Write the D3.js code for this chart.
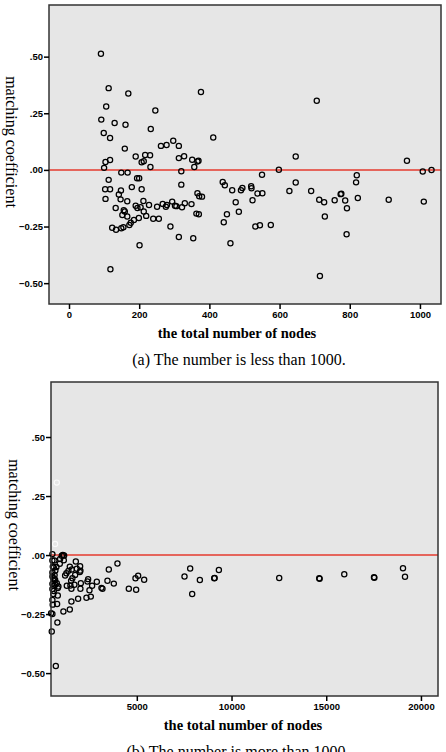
<!DOCTYPE html>
<html>
<head>
<meta charset="utf-8">
<script src="https://cdnjs.cloudflare.com/ajax/libs/d3/7.8.5/d3.min.js"></script>
<style>
    body { margin: 0; background: #fff; }
    svg { display: block; }
    .tick text { font-family: "Liberation Sans", Arial, sans-serif; font-weight: bold; font-size: 9.5px; fill: #000; }
    .tick line { stroke: #000; stroke-width: 1.5; }
    .serif { font-family: "Liberation Serif", "Times New Roman", serif; fill: #000; }
</style>
</head>
<body>
<div id="chart"></div>
<script>
// panel (a): total number of nodes < 1000
const smallNodes = [
    91, 113, 169, 376, 106, 246, 92, 130, 161, 233, 99, 117, 411, 159, 262, 278, 297, 313,
    190, 217, 231, 207, 213, 232, 313, 328, 351, 369, 366, 357, 104, 117, 100, 149, 167, 320,
    113, 194, 200, 103, 117, 148, 179, 207, 320, 104, 142, 147, 166, 133, 159, 156, 152, 166,
    190, 195, 204, 212, 213, 220, 228, 199, 185, 176, 172, 155, 149, 123, 134, 240, 256, 251,
    267, 276, 279, 294, 302, 306, 322, 330, 349, 366, 371, 379, 363, 370, 289, 313, 354, 201, 118,
    706, 646, 963, 598, 1008, 1033, 550, 820, 818, 438, 444, 465, 490, 494, 519, 520, 537, 551,
    646, 628, 690, 523, 475, 484, 450, 441, 460, 531, 544, 575, 713, 727, 729, 757, 774, 776,
    787, 792, 791, 823, 911, 1011, 715
];
const smallCoef = [
    0.513, 0.361, 0.337, 0.344, 0.28, 0.262, 0.222, 0.207, 0.199, 0.181, 0.163, 0.141, 0.143, 0.094, 0.106, 0.11, 0.129, 0.106,
    0.059, 0.066, 0.065, 0.034, 0.038, 0.013, 0.052, 0.06, 0.045, 0.04, 0.037, 0.013, 0.035, 0.044, 0.009, -0.012, -0.012, -0.006,
    -0.044, -0.037, -0.037, -0.085, -0.085, -0.091, -0.076, -0.085, -0.065, -0.128, -0.109, -0.13, -0.138, -0.168, -0.184, -0.178, -0.199, -0.206,
    -0.158, -0.168, -0.165, -0.137, -0.184, -0.203, -0.155, -0.212, -0.221, -0.233, -0.243, -0.253, -0.258, -0.255, -0.264, -0.216, -0.216, -0.163,
    -0.15, -0.163, -0.155, -0.14, -0.158, -0.16, -0.165, -0.147, -0.151, -0.103, -0.116, -0.118, -0.193, -0.196, -0.25, -0.296, -0.302, -0.333, -0.439,
    0.305, 0.059, 0.04, 0.001, -0.007, 0.0, -0.021, -0.024, -0.055, -0.053, -0.068, -0.09, -0.09, -0.08, -0.072, -0.081, -0.104, -0.103,
    -0.056, -0.093, -0.093, -0.134, -0.143, -0.185, -0.196, -0.231, -0.324, -0.25, -0.244, -0.243, -0.132, -0.143, -0.206, -0.134, -0.107, -0.105,
    -0.135, -0.169, -0.284, -0.124, -0.132, -0.14, -0.468
];

// panel (b): total number of nodes > 1000
const largeNodes = [
    3978, 3522, 3450, 3786, 2889, 2430, 2394, 2641, 2500, 3134, 3187, 2342, 2571, 4578, 4965, 4930, 5071, 5388,
    7518, 7817, 7923, 8329, 9085, 9110, 9332, 12518, 14631, 14650, 15952, 17521, 17540, 19052, 19158,
    1780, 1093, 1162, 1040, 2007, 2023, 1991, 1833, 1463, 1569, 1389, 1284, 1215, 935, 755, 565, 1146, 951, 650,
    1743, 1600, 1532, 2044, 1706, 1495, 1305, 2023, 1548, 1902, 1548, 1463, 1125, 829, 792, 808, 724, 861, 776,
    687, 597, 703, 829, 544, 544, 618, 544, 544, 618, 544, 544, 618, 544, 475, 544, 510, 620, 660, 590, 700, 560
];
const largeCoef = [
    -0.036, -0.061, -0.109, -0.121, -0.113, -0.102, -0.112, -0.13, -0.149, -0.139, -0.143, -0.181, -0.176, -0.143, -0.147, -0.098, -0.088, -0.105,
    -0.091, -0.057, -0.165, -0.106, -0.098, -0.097, -0.063, -0.097, -0.098, -0.1, -0.081, -0.094, -0.096, -0.056, -0.092,
    -0.027, 0.0, -0.002, -0.003, -0.047, -0.066, -0.072, -0.058, -0.049, -0.061, -0.067, -0.077, -0.087, -0.037, -0.051, -0.049, -0.022, -0.017, -0.023,
    -0.084, -0.098, -0.109, -0.119, -0.126, -0.129, -0.13, -0.143, -0.143, -0.185, -0.197, -0.231, -0.239, -0.171, -0.207, -0.286, -0.47, -0.133, -0.119,
    -0.105, -0.098, -0.126, -0.14, 0.004, -0.023, -0.053, -0.074, -0.091, -0.105, -0.122, -0.144, -0.152, -0.19, -0.246, -0.25, -0.324, -0.13, -0.085, -0.165, -0.065, -0.21
];
// faint white markers visible near the left edge of panel (b)
const faintNodes = [776, 687];
const faintCoef = [0.307, 0.047];

const coefTicks = [0.5, 0.25, 0, -0.25, -0.5];
const smallNodeTicks = [0, 200, 400, 600, 800, 1000];
const largeNodeTicks = [5000, 10000, 15000, 20000];

const xTitle = "the total number of nodes";
const yTitle = "matching coefficient";

const width = 446, height = 752;
const svg = d3.select("#chart").append("svg")
    .attr("width", width)
    .attr("height", height);

const formatCoef = d => d3.format(".2f")(d).replace(/^(-?)0\./, "$1.");

function drawPanel(opts) {
    const { box, xDomain, yDomain, xTicks, nodes, coef, faint, caption } = opts;
    const x = d3.scaleLinear().domain(xDomain).range([box.left, box.right]);
    const y = d3.scaleLinear().domain(yDomain).range([box.bottom, box.top]);

    const g = svg.append("g");

    g.append("rect")
        .attr("x", box.left)
        .attr("y", box.top)
        .attr("width", box.right - box.left)
        .attr("height", box.bottom - box.top)
        .attr("fill", "#e6e6e6");

    g.append("line")
        .attr("x1", box.left)
        .attr("x2", box.right)
        .attr("y1", y(0))
        .attr("y2", y(0))
        .attr("stroke", "#e53a2e")
        .attr("stroke-width", 1.5);

    if (faint) {
        g.selectAll(".faint")
            .data(d3.range(faint.nodes.length))
            .enter().append("circle")
            .attr("class", "faint")
            .attr("cx", i => x(faint.nodes[i]))
            .attr("cy", i => y(faint.coef[i]))
            .attr("r", 2.6)
            .attr("fill", "none")
            .attr("stroke", "#fafafa")
            .attr("stroke-width", 1.1);
    }

    g.selectAll(".pt")
        .data(d3.range(nodes.length))
        .enter().append("circle")
        .attr("class", "pt")
        .attr("cx", i => x(nodes[i]))
        .attr("cy", i => y(coef[i]))
        .attr("r", 2.6)
        .attr("fill", "none")
        .attr("stroke", "#000")
        .attr("stroke-width", 1.25);

    g.append("rect")
        .attr("x", box.left)
        .attr("y", box.top)
        .attr("width", box.right - box.left)
        .attr("height", box.bottom - box.top)
        .attr("fill", "none")
        .attr("stroke", "#333")
        .attr("stroke-width", 1.5);

    const yAxis = g.append("g")
        .attr("transform", `translate(${box.left},0)`)
        .call(d3.axisLeft(y).tickValues(coefTicks).tickSize(5).tickPadding(1).tickFormat(formatCoef));
    yAxis.select(".domain").remove();

    const xAxis = g.append("g")
        .attr("transform", `translate(0,${box.bottom})`)
        .call(d3.axisBottom(x).tickValues(xTicks).tickSize(5).tickPadding(2).tickFormat(d3.format("d")));
    xAxis.select(".domain").remove();

    g.append("text")
        .attr("class", "serif")
        .attr("x", opts.xTitleX)
        .attr("y", box.bottom + 29)
        .attr("dy", "0.35em")
        .attr("text-anchor", "middle")
        .attr("font-weight", "bold")
        .attr("font-size", 14.5)
        .text(xTitle);

    g.append("text")
        .attr("class", "serif")
        .attr("transform", `translate(${opts.yTitleX},${opts.yTitleY}) rotate(90)`)
        .attr("dy", "0.35em")
        .attr("text-anchor", "middle")
        .attr("font-size", 16)
        .text(yTitle);

    g.append("text")
        .attr("class", "serif")
        .attr("x", opts.captionX)
        .attr("y", box.bottom + 55)
        .attr("dy", "0.35em")
        .attr("text-anchor", "middle")
        .attr("font-size", 16)
        .text(caption);
}

drawPanel({
    box: { left: 49, right: 441, top: 5, bottom: 304 },
    xDomain: [-57, 1060],
    yDomain: [-0.592, 0.728],
    xTicks: smallNodeTicks,
    nodes: smallNodes,
    coef: smallCoef,
    caption: "(a) The number is less than 1000.",
    xTitleX: 237,
    yTitleX: 12,
    yTitleY: 142,
    captionX: 239
});

drawPanel({
    box: { left: 51, right: 438, top: 382, bottom: 696 },
    xDomain: [470, 20900],
    yDomain: [-0.597, 0.733],
    xTicks: largeNodeTicks,
    nodes: largeNodes,
    coef: largeCoef,
    faint: { nodes: faintNodes, coef: faintCoef },
    caption: "(b) The number is more than 1000.",
    xTitleX: 243,
    yTitleX: 15,
    yTitleY: 525,
    captionX: 238
});
</script>
</body>
</html>
